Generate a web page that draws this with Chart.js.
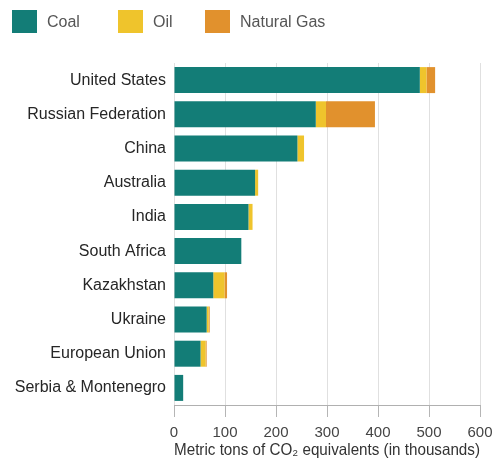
<!DOCTYPE html>
<html>
<head>
<meta charset="utf-8">
<script src="https://cdn.jsdelivr.net/npm/chart.js@4.4.1/dist/chart.umd.min.js"></script>
<style>
  html, body { margin: 0; padding: 0; background: #fff; overflow: hidden; }
  #wrap { width: 496px; height: 467px; position: relative; overflow: hidden; }
  #wrap canvas { display: block; }
  #legend { position: absolute; left: 0; top: 0; height: 44px; width: 496px; font-family: 'Liberation Sans', Arial, sans-serif; font-size: 16px; color: #555; }
  #legend span.box { position: absolute; top: 10px; width: 25px; height: 23px; }
  #legend span.txt { position: absolute; top: 12px; line-height: 20px; }
</style>
</head>
<body>
<div id="wrap">
  <div id="legend"></div>
  <canvas id="emissions"></canvas>
</div>
<script>
// Emissions by source, metric tons of CO2 equivalents (thousands)
const countries = [
  "United States", "Russian Federation", "China", "Australia", "India",
  "South Africa", "Kazakhstan", "Ukraine", "European Union", "Serbia & Montenegro"
];
const coal = [482, 278, 242, 159, 146, 132, 77, 64, 52, 18];
const oil = [13, 20, 13, 6, 8, 0, 22, 4, 10, 0];
const gas = [17, 96, 0, 0, 0, 0, 5, 2, 2, 0];
const xTicks = [0, 100, 200, 300, 400, 500, 600];

const sources = ["Coal", "Oil", "Natural Gas"];
const colors = ["#137d77", "#efc42c", "#e1912d"];

const FONT = "'Liberation Sans', Arial, sans-serif";

// legend row above the plot
const legendX = [12, 118, 205];
const legendEl = document.getElementById("legend");
sources.forEach((name, i) => {
  legendEl.insertAdjacentHTML("beforeend",
    `<span class="box" style="left:${legendX[i]}px;background:${colors[i]}"></span>` +
    `<span class="txt" style="left:${legendX[i] + 35}px">${name}</span>`);
});

new Chart(document.getElementById("emissions"), {
  type: "bar",
  data: {
    labels: countries,
    datasets: [
      { label: sources[0], data: coal, backgroundColor: colors[0] },
      { label: sources[1], data: oil, backgroundColor: colors[1] },
      { label: sources[2], data: gas, backgroundColor: colors[2] }
    ]
  },
  options: {
    indexAxis: "y",
    responsive: true,
    maintainAspectRatio: false,
    animation: false,
    datasets: { bar: { categoryPercentage: 0.76, barPercentage: 1 } },
    layout: { padding: { left: 0, right: 16, top: 63, bottom: 7 } },
    plugins: {
      tooltip: { enabled: false },
      legend: { display: false }
    },
    scales: {
      x: {
        stacked: true,
        min: 0,
        max: 600,
        afterBuildTicks(scale) { scale.ticks = xTicks.map(v => ({ value: v })); },
        // fixed band for tick labels + title, no extra overhang on the right
        afterFit(scale) { scale.height = 55; scale.paddingRight = 0; },
        grid: { color: "#e0e0e0", tickLength: 12, tickColor: "#b5b5b5" },
        border: { color: "#b0b0b0" },
        ticks: { color: "#444", font: { family: FONT, size: 15 }, padding: 7, maxRotation: 0 },
        title: {
          display: true,
          text: "Metric tons of CO₂ equivalents (in thousands)",
          color: "#333",
          font: { family: FONT, size: 16.5 },
          padding: { top: 0, bottom: 0 }
        }
      },
      y: {
        stacked: true,
        afterFit(scale) { scale.width = 174; },
        grid: { display: false, drawTicks: false },
        border: { display: false },
        ticks: { color: "#262626", font: { family: FONT, size: 16 }, padding: 8 }
      }
    }
  }
});
</script>
</body>
</html>
